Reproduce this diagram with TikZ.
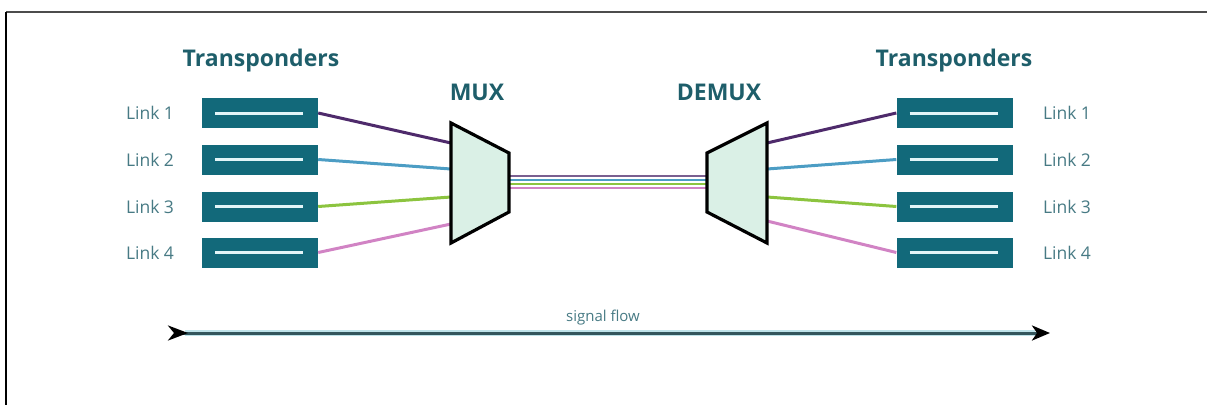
\documentclass[tikz,border=0pt]{standalone}
\usepackage{fontspec}
\setmainfont{Open Sans}
\usetikzlibrary{arrows.meta}
\definecolor{boxteal}{HTML}{12697A}
\definecolor{titleteal}{HTML}{1E5E6A}
\definecolor{labelteal}{HTML}{477A84}
\definecolor{barwhite}{HTML}{E2F5F8}
\definecolor{lpurple}{HTML}{4E2A6B}
\definecolor{lblue}{HTML}{4C9DC4}
\definecolor{lgreen}{HTML}{8CC43F}
\definecolor{lpink}{HTML}{D183C4}
\definecolor{muxfill}{HTML}{DAF0E6}
\definecolor{flowline}{HTML}{34565D}
\definecolor{flowhalo}{HTML}{BFE3EA}
\tikzset{
  tbox/.style={rectangle, fill=boxteal, minimum width=116pt, minimum height=30pt, inner sep=0pt,
    path picture={\draw[barwhite, line width=3pt] ([xshift=13pt]path picture bounding box.west) -- ([xshift=-15pt]path picture bounding box.east);}},
  title/.style={font=\bfseries\fontsize{23}{26}\selectfont, text=titleteal, inner sep=0pt},
  linklbl/.style={font=\fontsize{17.5}{20}\selectfont, text=labelteal, inner sep=0pt},
  wire/.style={line width=3pt},
  fiber/.style={line width=2pt},
  trap/.style={draw=black, line width=3.2pt, fill=muxfill, line join=miter},
}
\begin{document}
\begin{tikzpicture}[x=1pt,y=-1pt]
\useasboundingbox (0,0) rectangle (1207,405);
% frame
\draw[black!70, line width=2pt] (6,12) -- (1207,12);
\draw[black, line width=2pt] (6,12) -- (6,405);

% titles
\node[title] (tl) at (261,61) {Transponders};
\node[title] (tr) at (954,61) {Transponders};
\node[title] (mux) at (477,92) {MUX};
\node[title] (demux) at (719,92) {DEMUX};

% transponder boxes
\foreach \i/\y in {1/113,2/159.5,3/206.5,4/252.5}{
  \node[tbox] (L\i) at (260,\y) {};
  \node[tbox] (R\i) at (954.5,\y) {};
  \node[linklbl] (LL\i) at (150,\y) {Link \i};
  \node[linklbl] (RL\i) at (1067,\y) {Link \i};
}

% mux/demux attachment coordinates
\coordinate (m1) at (451,143); \coordinate (m2) at (451,169);
\coordinate (m3) at (451,197); \coordinate (m4) at (451,224);
\coordinate (d1) at (767,143); \coordinate (d2) at (767,169);
\coordinate (d3) at (767,197); \coordinate (d4) at (767,221);
\coordinate (mo1) at (509,175.5); \coordinate (mo2) at (509,179.5);
\coordinate (mo3) at (509,183.5); \coordinate (mo4) at (509,187.5);
\coordinate (di1) at (707,175.5); \coordinate (di2) at (707,179.5);
\coordinate (di3) at (707,183.5); \coordinate (di4) at (707,187.5);

% wires
\draw[wire, lpurple] (L1.east) -- (m1);
\draw[wire, lblue] (L2.east) -- (m2);
\draw[wire, lgreen] (L3.east) -- (m3);
\draw[wire, lpink] (L4.east) -- (m4);
\draw[wire, lpurple] (R1.west) -- (d1);
\draw[wire, lblue] (R2.west) -- (d2);
\draw[wire, lgreen] (R3.west) -- (d3);
\draw[wire, lpink] (R4.west) -- (d4);

% fibers
\draw[fiber, lpurple!75] (mo1) -- (di1);
\draw[fiber, lblue] (mo2) -- (di2);
\draw[fiber, lgreen] (mo3) -- (di3);
\draw[fiber, lpink] (mo4) -- (di4);

% trapezoids
\draw[trap] (451,123) -- (509,153) -- (509,212) -- (451,243) -- cycle;
\draw[trap] (767,123) -- (707,153) -- (707,212) -- (767,243) -- cycle;

% signal flow
\coordinate (sfL) at (168,333);
\coordinate (sfR) at (1050,333);
\draw[flowhalo, line width=5.5pt] (185,333) -- (1035,333);
\draw[flowline, line width=3pt, {Stealth[reversed, length=20pt, width=15pt, inset=6pt, black]}-{Stealth[length=18pt, width=15pt, inset=5pt, black]}] (sfL) -- (sfR);
\node[font=\fontsize{15}{18}\selectfont, text=labelteal, inner sep=0pt] (sf) at (603,318) {signal flow};
\end{tikzpicture}
\end{document}
